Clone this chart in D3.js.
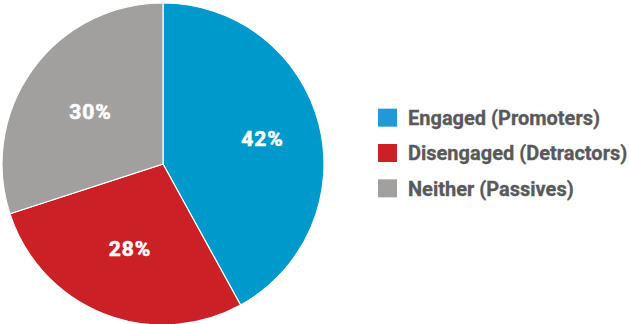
<!DOCTYPE html>
<html>
<head>
<meta charset="utf-8">
<script src="https://cdn.jsdelivr.net/npm/d3@7"></script>
<style>
  html, body { margin: 0; padding: 0; background: #fff; }
  svg { display: block; }
</style>
</head>
<body>
<svg id="chart" width="629" height="324"></svg>
<script>
// Survey segments, clockwise from 12 o'clock
const categories = ["Engaged (Promoters)", "Disengaged (Detractors)", "Neither (Passives)"];
const shares = [42, 28, 30];
const sliceColors = ["#0099cc", "#cc2027", "#a1a09f"];
const legendColors = ["#2299d4", "#cc2027", "#a1a09f"];

const svg = d3.select("#chart");
const cx = 163, cy = 164, radius = 161;
// distance of each percentage label from the centre, as a fraction of the radius
const labelDistance = [0.635, 0.565, 0.56];

const pie = d3.pie().sort(null).value(d => d.value);
const arcs = pie(categories.map((c, i) => ({ name: c, value: shares[i] })));

const arc = d3.arc().innerRadius(0).outerRadius(radius);
const labelPos = (d, i) => {
  const r = radius * labelDistance[i];
  return d3.arc().innerRadius(r).outerRadius(r).centroid(d);
};

const g = svg.append("g").attr("transform", `translate(${cx},${cy})`);

g.selectAll("path.slice")
  .data(arcs)
  .join("path")
  .attr("class", "slice")
  .attr("d", arc)
  .attr("fill", (d, i) => sliceColors[i])
  .attr("stroke", "#ffffff")
  .attr("stroke-width", 1.2);

g.selectAll("text.pct")
  .data(arcs)
  .join("text")
  .attr("class", "pct")
  .attr("transform", (d, i) => `translate(${labelPos(d, i)})`)
  .attr("text-anchor", "middle")
  .attr("dx", "0.5px")
  .attr("dy", "0.36em")
  .attr("fill", "#ffffff")
  .attr("stroke", "#ffffff")
  .attr("stroke-width", 0.6)
  .style("font-family", "Roboto, sans-serif")
  .style("font-weight", "700")
  .style("font-size", "21px")
  .style("letter-spacing", "1px")
  .text(d => d.data.value + "%");

// Legend
const legendY = d3.scaleBand().domain(categories).range([100, 206]).paddingInner(0);
const legend = svg.append("g").attr("transform", "translate(378,0)");
const rows = legend.selectAll("g.row")
  .data(categories)
  .join("g")
  .attr("class", "row")
  .attr("transform", d => `translate(0,${legendY(d) + legendY.bandwidth() / 2})`);

rows.append("rect")
  .attr("x", 0)
  .attr("y", -9)
  .attr("width", 19)
  .attr("height", 18)
  .attr("fill", (d, i) => legendColors[i]);

rows.append("text")
  .attr("x", 30)
  .attr("dy", "0.36em")
  .attr("fill", "#595959")
  .attr("stroke", "#595959")
  .attr("stroke-width", 0.3)
  .style("font-family", "Roboto, sans-serif")
  .style("font-weight", "700")
  .style("font-size", "20px")
  .text(d => d);
</script>
</body>
</html>
